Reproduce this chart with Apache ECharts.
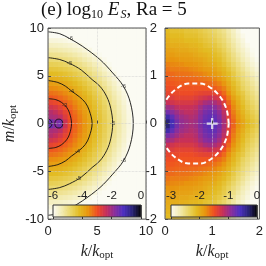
<!DOCTYPE html>
<html><head><meta charset="utf-8">
<script src="https://cdn.jsdelivr.net/npm/echarts@6/dist/echarts.min.js"></script>
<style>html,body{margin:0;padding:0;background:#fff}#c{width:266px;height:266px}</style>
</head><body><div id="c"></div>
<script>
// ---------- DATA ----------
// Left panel: log10 E_S model on cells of 0.5 x 0.5 (upper half m>0, mirrored in m)
const leftK = [0.25,0.75,1.25,1.75,2.25,2.75,3.25,3.75,4.25,4.75,5.25,5.75,6.25,6.75,7.25,7.75,8.25,8.75,9.25,9.75];
const leftM = [0.25,0.75,1.25,1.75,2.25,2.75,3.25,3.75,4.25,4.75,5.25,5.75,6.25,6.75,7.25,7.75,8.25,8.75,9.25,9.75];
const leftRows = [
 [-1.5,-1.75,-1.6,-2.45,-2.92,-3.17,-3.41,-3.65,-3.89,-4.13,-4.37,-4.61,-4.85,-5.09,-5.33,-5.57,-5.81,-6.05,-6.29,-6.53],
 [-2.1,-2.15,-2.3,-2.67,-2.98,-3.21,-3.44,-3.68,-3.92,-4.15,-4.39,-4.63,-4.87,-5.11,-5.34,-5.58,-5.82,-6.06,-6.3,-6.54],
 [-2.22,-2.35,-2.56,-2.82,-3.06,-3.28,-3.51,-3.74,-3.97,-4.2,-4.43,-4.67,-4.9,-5.14,-5.37,-5.61,-5.85,-6.09,-6.32,-6.56],
 [-2.52,-2.61,-2.78,-3.0,-3.18,-3.39,-3.6,-3.81,-4.03,-4.26,-4.49,-4.72,-4.95,-5.18,-5.42,-5.65,-5.89,-6.12,-6.36,-6.59],
 [-2.82,-2.89,-3.02,-3.16,-3.32,-3.51,-3.7,-3.91,-4.12,-4.34,-4.56,-4.79,-5.01,-5.24,-5.47,-5.7,-5.93,-6.17,-6.4,-6.63],
 [-3.08,-3.13,-3.22,-3.34,-3.49,-3.65,-3.84,-4.03,-4.23,-4.44,-4.65,-4.87,-5.09,-5.32,-5.54,-5.77,-5.99,-6.23,-6.46,-6.69],
 [-3.3,-3.34,-3.42,-3.52,-3.66,-3.81,-3.98,-4.16,-4.35,-4.55,-4.76,-4.97,-5.18,-5.4,-5.62,-5.84,-6.07,-6.29,-6.52,-6.75],
 [-3.53,-3.56,-3.63,-3.72,-3.84,-3.98,-4.14,-4.31,-4.49,-4.67,-4.87,-5.08,-5.29,-5.5,-5.71,-5.93,-6.15,-6.37,-6.6,-6.82],
 [-3.75,-3.78,-3.84,-3.92,-4.03,-4.16,-4.31,-4.46,-4.63,-4.81,-5.0,-5.2,-5.4,-5.6,-5.81,-6.02,-6.24,-6.46,-6.67,-6.9],
 [-3.97,-4.0,-4.05,-4.13,-4.23,-4.35,-4.48,-4.63,-4.79,-4.96,-5.15,-5.33,-5.53,-5.72,-5.93,-6.13,-6.34,-6.55,-6.77,-6.98],
 [-4.2,-4.22,-4.27,-4.34,-4.43,-4.54,-4.66,-4.8,-4.95,-5.12,-5.29,-5.47,-5.65,-5.85,-6.04,-6.25,-6.45,-6.66,-6.87,-7.08],
 [-4.42,-4.44,-4.49,-4.55,-4.63,-4.73,-4.85,-4.98,-5.13,-5.28,-5.45,-5.62,-5.8,-5.98,-6.17,-6.37,-6.57,-6.77,-6.98,-7.19],
 [-4.64,-4.66,-4.7,-4.76,-4.84,-4.93,-5.05,-5.17,-5.3,-5.45,-5.61,-5.77,-5.94,-6.13,-6.31,-6.5,-6.69,-6.89,-7.09,-7.3],
 [-4.86,-4.88,-4.92,-4.98,-5.05,-5.14,-5.24,-5.36,-5.49,-5.63,-5.78,-5.93,-6.1,-6.27,-6.45,-6.63,-6.83,-7.02,-7.21,-7.41],
 [-5.09,-5.11,-5.14,-5.19,-5.26,-5.34,-5.44,-5.55,-5.67,-5.81,-5.95,-6.1,-6.26,-6.43,-6.6,-6.78,-6.96,-7.15,-7.35,-7.54],
 [-5.31,-5.33,-5.36,-5.41,-5.47,-5.55,-5.64,-5.75,-5.87,-5.99,-6.13,-6.27,-6.43,-6.59,-6.76,-6.93,-7.11,-7.3,-7.48,-7.68],
 [-5.53,-5.55,-5.58,-5.63,-5.69,-5.76,-5.85,-5.95,-6.06,-6.18,-6.31,-6.45,-6.6,-6.75,-6.92,-7.09,-7.26,-7.44,-7.62,-7.81],
 [-5.76,-5.77,-5.8,-5.84,-5.9,-5.97,-6.05,-6.15,-6.25,-6.37,-6.5,-6.63,-6.77,-6.92,-7.08,-7.24,-7.41,-7.58,-7.76,-7.94],
 [-5.98,-5.99,-6.02,-6.06,-6.12,-6.18,-6.26,-6.35,-6.45,-6.56,-6.68,-6.81,-6.95,-7.09,-7.24,-7.4,-7.57,-7.74,-7.91,-8.09],
 [-6.2,-6.22,-6.25,-6.28,-6.33,-6.4,-6.48,-6.56,-6.66,-6.76,-6.88,-7.0,-7.13,-7.27,-7.42,-7.57,-7.73,-7.89,-8.06,-8.23]
];
// contour lines (upper half, mirrored in m)
const contour6 = [[0,9.6],[1.2,9.4],[2.2,8.9],[3.5,8.1],[5.3,6.7],[6.6,5.3],[7.7,3.9],[8.4,2.2],[8.7,0]];
const contour5 = [[0,6.9],[1.2,6.7],[2.2,6.3],[3.4,5.6],[4.5,4.6],[5.3,3.9],[6.0,2.8],[6.4,1.6],[6.6,0]];
const contour4 = [[0,4.5],[1.0,4.3],[1.8,3.9],[2.4,3.4],[3.2,2.8],[3.8,2.2],[4.2,1.4],[4.5,0]];
const contour3 = [[0,2.6],[0.8,2.5],[1.4,2.2],[1.9,1.7],[2.2,1.1],[2.4,0]];
const loopA = [[0,0.45],[0.2,0.4],[0.35,0.23],[0.4,0]];
const loopB = [[0.7,0],[0.75,0.26],[0.9,0.42],[1.1,0.46],[1.3,0.42],[1.45,0.26],[1.5,0]];
const contourLabels = [[7.7,3.9,'-6'],[7.7,-3.9,'-6'],[2.3,8.95,'-6'],[2.2,6.35,'-5'],[6.6,0,'-5'],[3.1,-5.7,'-5'],[2.4,3.4,'-4'],[3.0,-2.95,'-4'],[1.7,1.9,'-3']];

// Right panel: measured log10 E_S on 0.1 x 0.1 cells (upper half, mirrored in m)
const rightK = [0.05,0.15,0.25,0.35,0.45,0.55,0.65,0.75,0.85,0.95,1.05,1.15,1.25,1.35,1.45,1.55,1.65,1.75,1.85,1.95];
const rightM = [0.05,0.15,0.25,0.35,0.45,0.55,0.65,0.75,0.85,0.95,1.05,1.15,1.25,1.35,1.45,1.55,1.65,1.75,1.85,1.95];
const rightRows = [
 [-0.3,-0.55,-0.8,-0.95,-1.0,-1.05,-1.0,-0.85,-0.72,-0.66,-0.68,-0.8,-1.05,-1.35,-1.6,-1.8,-1.95,-2.1,-2.2,-2.3],
 [-0.5,-0.7,-0.9,-1.0,-1.05,-1.1,-1.05,-0.9,-0.76,-0.7,-0.72,-0.85,-1.1,-1.4,-1.65,-1.85,-2.0,-2.15,-2.25,-2.35],
 [-0.8,-0.9,-1.0,-1.1,-1.15,-1.15,-1.1,-0.95,-0.82,-0.76,-0.8,-0.92,-1.15,-1.45,-1.7,-1.9,-2.05,-2.2,-2.3,-2.4],
 [-1.0,-1.05,-1.15,-1.2,-1.2,-1.2,-1.15,-1.02,-0.9,-0.85,-0.9,-1.02,-1.25,-1.5,-1.75,-1.95,-2.1,-2.25,-2.35,-2.45],
 [-1.2,-1.25,-1.3,-1.3,-1.3,-1.3,-1.25,-1.15,-1.05,-1.0,-1.05,-1.15,-1.35,-1.6,-1.8,-2.0,-2.15,-2.3,-2.4,-2.5],
 [-1.35,-1.35,-1.4,-1.4,-1.4,-1.4,-1.35,-1.3,-1.25,-1.2,-1.25,-1.3,-1.5,-1.7,-1.9,-2.05,-2.2,-2.35,-2.45,-2.55],
 [-1.42,-1.45,-1.45,-1.48,-1.48,-1.48,-1.45,-1.42,-1.4,-1.4,-1.42,-1.48,-1.62,-1.8,-2.0,-2.15,-2.25,-2.4,-2.5,-2.6],
 [-1.48,-1.5,-1.52,-1.52,-1.52,-1.52,-1.52,-1.52,-1.52,-1.52,-1.56,-1.62,-1.72,-1.9,-2.05,-2.2,-2.35,-2.45,-2.55,-2.65],
 [-1.52,-1.54,-1.56,-1.56,-1.56,-1.56,-1.56,-1.58,-1.6,-1.62,-1.66,-1.72,-1.82,-1.98,-2.12,-2.25,-2.4,-2.5,-2.6,-2.7],
 [-1.56,-1.58,-1.6,-1.6,-1.6,-1.62,-1.62,-1.65,-1.67,-1.7,-1.75,-1.82,-1.92,-2.05,-2.2,-2.32,-2.45,-2.55,-2.65,-2.75],
 [-1.6,-1.62,-1.65,-1.65,-1.66,-1.67,-1.7,-1.72,-1.76,-1.8,-1.85,-1.92,-2.02,-2.12,-2.25,-2.4,-2.5,-2.62,-2.72,-2.82],
 [-1.66,-1.7,-1.7,-1.71,-1.72,-1.75,-1.77,-1.8,-1.85,-1.88,-1.92,-2.0,-2.08,-2.2,-2.32,-2.45,-2.57,-2.68,-2.78,-2.88],
 [-1.72,-1.75,-1.76,-1.77,-1.8,-1.81,-1.83,-1.87,-1.92,-1.96,-2.0,-2.07,-2.17,-2.28,-2.4,-2.52,-2.63,-2.75,-2.85,-2.93],
 [-1.8,-1.8,-1.82,-1.85,-1.86,-1.87,-1.9,-1.92,-1.97,-2.02,-2.07,-2.12,-2.23,-2.35,-2.47,-2.58,-2.7,-2.8,-2.9,-2.97],
 [-1.86,-1.86,-1.9,-1.9,-1.91,-1.92,-1.96,-2.0,-2.02,-2.07,-2.12,-2.18,-2.28,-2.4,-2.52,-2.64,-2.75,-2.86,-2.95,-3.02],
 [-1.9,-1.92,-1.95,-1.96,-1.96,-2.0,-2.01,-2.06,-2.1,-2.12,-2.18,-2.24,-2.34,-2.46,-2.58,-2.7,-2.8,-2.9,-2.98,-3.06],
 [-1.96,-2.0,-2.0,-2.01,-2.02,-2.05,-2.06,-2.1,-2.16,-2.2,-2.23,-2.32,-2.4,-2.52,-2.63,-2.75,-2.86,-2.95,-3.02,-3.1],
 [-2.0,-2.05,-2.05,-2.06,-2.1,-2.1,-2.11,-2.16,-2.21,-2.26,-2.3,-2.38,-2.45,-2.57,-2.68,-2.8,-2.9,-3.0,-3.06,-3.12],
 [-2.05,-2.1,-2.1,-2.1,-2.15,-2.15,-2.16,-2.21,-2.26,-2.31,-2.36,-2.43,-2.5,-2.62,-2.73,-2.85,-2.95,-3.02,-3.1,-3.15],
 [-2.1,-2.15,-2.15,-2.15,-2.2,-2.2,-2.21,-2.26,-2.31,-2.36,-2.41,-2.48,-2.55,-2.66,-2.77,-2.9,-3.0,-3.05,-3.12,-3.18]
];
// dashed reference curve (upper half, mirrored) and optimum marker
const circlePts = [[1.35,0],[1.306,0.291],[1.179,0.546],[0.985,0.736],[0.747,0.837],[0.493,0.837],[0.255,0.736],[0.061,0.546],[-0.066,0.291],[-0.11,0]];
const optimum = [[1, 0]];
// tick settings
const leftXTicks = [0, 5, 10], leftYTicks = [-10, -5, 0, 5, 10];
const rightXTicks = [0, 1, 2], rightYTicks = [-2, -1, 0, 1, 2];
const cbarLeftRange = [-6, 0], cbarRightRange = [-3, 0];

// ---------- BUILD ----------
const cmap = ['#fbfbf3','#f3ecb4','#ead668','#e3bb22','#e8940e','#f04e22','#c83058','#8a2e9c','#4c30c2','#2a2478','#040406'];
function gridData(K, M, rows) {
  const out = [];
  rows.forEach((row, i) => row.forEach((v, j) => { out.push([K[j], M[i], v]); out.push([K[j], -M[i], v]); }));
  return out;
}
function mirrorCurve(up) {
  const low = up.slice(0, -1).reverse().map(p => [p[0], -p[1]]);
  return up.concat(low);
}
function closedLoop(up) {
  const low = up.slice(1, -1).reverse().map(p => [p[0], -p[1]]);
  const full = up.concat(low);
  full.push(up[0]);
  return full;
}
function cellRenderer(dk, dm) {
  return function (params, api) {
    const k = api.value(0), m = api.value(1);
    const p0 = api.coord([k - dk / 2, m + dm / 2]);
    const p1 = api.coord([k + dk / 2, m - dm / 2]);
    return { type: 'rect', shape: { x: p0[0], y: p0[1], width: p1[0] - p0[0] + 0.6, height: p1[1] - p0[1] + 0.6 },
      style: { fill: api.visual('color') } };
  };
}
function cbarData(range, n) {
  const out = [], step = (range[1] - range[0]) / n;
  for (let i = 0; i < n; i++) out.push([range[0] + (i + 0.5) * step, 0.5, range[0] + (i + 0.5) * step]);
  return out;
}
function cbarRenderer(range, n) {
  const step = (range[1] - range[0]) / n;
  return function (params, api) {
    const v = api.value(0);
    const p0 = api.coord([v - step / 2, 1]);
    const p1 = api.coord([v + step / 2, 0]);
    return { type: 'rect', shape: { x: p0[0], y: p0[1], width: p1[0] - p0[0] + 0.6, height: p1[1] - p0[1] },
      style: { fill: api.visual('color') } };
  };
}

const SANS = 'Liberation Sans', SERIF = 'Liberation Serif';
const tickLabel = { fontFamily: SANS, fontSize: 13, color: '#222' };
const nameRich = {
  i: { fontFamily: SERIF, fontStyle: 'italic', fontSize: 16, color: '#222', lineHeight: 18 },
  r: { fontFamily: SERIF, fontSize: 16, color: '#222', lineHeight: 18 },
  s: { fontFamily: SERIF, fontSize: 11, color: '#222', lineHeight: 11, padding: [7, 0, 0, 0] }
};
const split = { show: true, lineStyle: { color: '#cfcfcf', type: 'dotted', width: 0.7 } };
function mainX(grid, min, max, interval, ticks) {
  return { gridIndex: grid, type: 'value', min, max, interval, z: 8,
    name: '{i|k}{r|/}{i|k}{s|opt}', nameLocation: 'middle', nameGap: 21, nameTextStyle: { rich: nameRich },
    axisLine: { show: false }, axisTick: { show: true, inside: true, length: 3, lineStyle: { color: '#444' } },
    axisLabel: Object.assign({ margin: 6, formatter: v => ticks.includes(v) ? String(v) : '' }, tickLabel),
    splitLine: split };
}
function mainY(grid, min, max, interval, ticks, withName, margin) {
  return { gridIndex: grid, type: 'value', min, max, interval, z: 8,
    name: withName ? '{i|m}{r|/}{i|k}{s|opt}' : '', nameLocation: 'middle', nameGap: 29, nameTextStyle: { rich: nameRich },
    axisLine: { show: false }, axisTick: { show: true, inside: true, length: 3, lineStyle: { color: '#444' } },
    axisLabel: Object.assign({ margin, formatter: v => ticks.includes(v) ? String(v) : '' }, tickLabel),
    splitLine: split };
}
function cbarX(grid, range, interval) {
  return { gridIndex: grid, type: 'value', min: range[0], max: range[1], interval, position: 'top', z: 12,
    axisLine: { show: false }, axisTick: { show: true, inside: true, length: 2, lineStyle: { color: '#333' } },
    axisLabel: { margin: 3, fontFamily: SANS, fontSize: 11.5, color: '#222' }, splitLine: { show: false } };
}

const NCB = 120;
const contours = [contour6, contour5, contour4, contour3].map(mirrorCurve);
contours.push(mirrorCurve(loopA));
contours.push(closedLoop(loopB));

const series = [
  { type: 'custom', xAxisIndex: 0, yAxisIndex: 0, renderItem: cellRenderer(0.5, 0.5), data: gridData(leftK, leftM, leftRows), encode: { x: 0, y: 1 }, silent: true, z: 1 },
  { type: 'custom', xAxisIndex: 1, yAxisIndex: 1, renderItem: cellRenderer(0.1, 0.1), data: gridData(rightK, rightM, rightRows), encode: { x: 0, y: 1 }, silent: true, z: 1 },
  { type: 'custom', xAxisIndex: 2, yAxisIndex: 2, renderItem: cbarRenderer(cbarLeftRange, NCB), data: cbarData(cbarLeftRange, NCB), encode: { x: 0, y: 1 }, silent: true, z: 10 },
  { type: 'custom', xAxisIndex: 3, yAxisIndex: 3, renderItem: cbarRenderer(cbarRightRange, NCB), data: cbarData(cbarRightRange, NCB), encode: { x: 0, y: 1 }, silent: true, z: 10 }
];
contours.forEach(c => series.push({ type: 'line', xAxisIndex: 0, yAxisIndex: 0, data: c, smooth: 0.35, symbol: 'none',
  lineStyle: { color: '#111', width: 0.9 }, clip: true, z: 5, silent: true }));
series.push({ type: 'scatter', xAxisIndex: 0, yAxisIndex: 0, data: contourLabels.map(p => ({ value: [p[0], p[1]], name: p[2] })),
  symbolSize: 1, itemStyle: { color: 'rgba(0,0,0,0)' }, z: 6, silent: true,
  label: { show: true, position: 'inside', formatter: p => p.name, fontFamily: SANS, fontSize: 6, color: '#222' } });
series.push({ type: 'line', xAxisIndex: 1, yAxisIndex: 1, data: mirrorCurve(circlePts), smooth: 0.35, symbol: 'none',
  lineStyle: { color: '#fff', width: 2, type: [5, 3] }, clip: true, z: 5, silent: true });
series.push({ type: 'scatter', xAxisIndex: 1, yAxisIndex: 1, data: optimum, symbol: 'path://M4,0h2v4h4v2h-4v4h-2v-4h-4v-2h4z',
  symbolSize: 11, itemStyle: { color: '#fff' }, z: 6, silent: true });

const richBase = { fontFamily: SERIF, color: '#111', fontWeight: 'normal' };
const option = {
  animation: false,
  backgroundColor: '#fff',
  title: { text: '{a|(e) log}{s|10}{a| }{i|E}{si|S}{a|, Ra = 5}', left: 41, top: -1, padding: 0,
    textStyle: { fontWeight: 'normal', fontFamily: SERIF, rich: {
      a: Object.assign({ fontSize: 19, lineHeight: 22 }, richBase),
      s: Object.assign({ fontSize: 12, lineHeight: 12, padding: [10, 0, 0, 0] }, richBase),
      i: Object.assign({ fontStyle: 'italic', fontSize: 19, lineHeight: 22 }, richBase),
      si: Object.assign({ fontStyle: 'italic', fontSize: 12, lineHeight: 12, padding: [10, 0, 0, 1] }, richBase)
    } } },
  grid: [
    { left: 48, top: 28, width: 98, height: 194, show: true, borderColor: '#555', borderWidth: 1, backgroundColor: 'transparent', z: 9 },
    { left: 165, top: 28, width: 96, height: 194, show: true, borderColor: '#555', borderWidth: 1, backgroundColor: 'transparent', z: 9 },
    { left: 53, top: 205, width: 88, height: 12, show: true, borderColor: '#333', borderWidth: 1, backgroundColor: 'transparent', z: 11 },
    { left: 171, top: 205, width: 86, height: 12, show: true, borderColor: '#333', borderWidth: 1, backgroundColor: 'transparent', z: 11 }
  ],
  xAxis: [ mainX(0, 0, 10, 5, leftXTicks), mainX(1, 0, 2, 1, rightXTicks), cbarX(2, cbarLeftRange, 2), cbarX(3, cbarRightRange, 1) ],
  yAxis: [ mainY(0, -10, 10, 5, leftYTicks, true, 4), mainY(1, -2, 2, 1, rightYTicks, false, 8),
    { gridIndex: 2, type: 'value', min: 0, max: 1, show: false }, { gridIndex: 3, type: 'value', min: 0, max: 1, show: false } ],
  visualMap: [
    { show: false, type: 'continuous', seriesIndex: [0, 2], dimension: 2, min: -6, max: 0, inRange: { color: cmap } },
    { show: false, type: 'continuous', seriesIndex: [1, 3], dimension: 2, min: -3, max: 0, inRange: { color: cmap } }
  ],
  series
};
const chart = echarts.init(document.getElementById('c'), null, { renderer: 'canvas' });
chart.setOption(option);
</script></body></html>
